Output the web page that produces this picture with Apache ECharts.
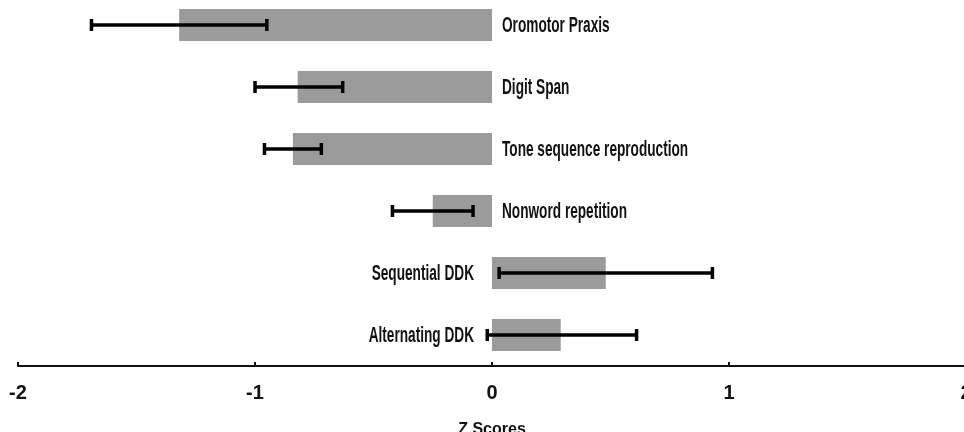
<!DOCTYPE html>
<html><head><meta charset="utf-8">
<script src="https://cdn.jsdelivr.net/npm/echarts@6/dist/echarts.min.js"></script>
<style>html,body{margin:0;padding:0;background:#fff}#c{width:964px;height:432px}</style>
</head><body><div id="c"></div>
<script>
const categories = ["Oromotor Praxis","Digit Span","Tone sequence reproduction","Nonword repetition","Sequential DDK","Alternating DDK"];
const zScores = [-1.32, -0.82, -0.84, -0.25, 0.48, 0.29];
const errLow  = [-1.69, -1.00, -0.96, -0.42, 0.03, -0.02];
const errHigh = [-0.95, -0.63, -0.72, -0.08, 0.93, 0.61];
const xTicks = [-2, -1, 0, 1, 2];

const FONT = "'Liberation Sans','Arial',sans-serif";
const chart = echarts.init(document.getElementById('c'));
chart.setOption({
  animation: false,
  backgroundColor: '#fff',
  grid: {left: 18, width: 948, top: -6, height: 372, containLabel: false, outerBoundsMode: 'none'},
  xAxis: {
    type: 'value', min: xTicks[0], max: xTicks[xTicks.length-1], interval: 1,
    axisLine: {show: true, onZero: false, lineStyle: {color: '#111', width: 2}},
    axisTick: {show: true, inside: true, length: 4, lineStyle: {color: '#111', width: 2}},
    splitLine: {show: false},
    axisLabel: {color: '#111', fontFamily: FONT, fontWeight: 'bold', fontSize: 20, margin: 17,
      formatter: v => String(v)},
    name: 'Z Scores', nameLocation: 'middle', nameGap: 56,
    nameTextStyle: {color: '#111', fontFamily: FONT, fontWeight: 'bold', fontSize: 16}
  },
  yAxis: {type: 'category', data: categories, inverse: true, show: false},
  series: [
    {type: 'bar', data: zScores, barWidth: 32, itemStyle: {color: '#9b9b9b'}, silent: true},
    {type: 'custom', z: 5, data: categories.map((c, i) => [i, errLow[i], errHigh[i]]),
      renderItem: function (params, api) {
        const i = api.value(0);
        const a = api.coord([api.value(1), i]);
        const b = api.coord([api.value(2), i]);
        const y = a[1];
        const st = {stroke: '#000', lineWidth: 3.5};
        return {type: 'group', children: [
          {type: 'line', shape: {x1: a[0], y1: y, x2: b[0], y2: y}, style: st},
          {type: 'line', shape: {x1: a[0], y1: y-6, x2: a[0], y2: y+6}, style: st},
          {type: 'line', shape: {x1: b[0], y1: y-6, x2: b[0], y2: y+6}, style: st}
        ]};
      }},
    {type: 'custom', z: 6, data: categories.map((c, i) => [i, zScores[i]]),
      renderItem: function (params, api) {
        const i = api.value(0);
        const v = api.value(1);
        const p = api.coord([0, i]);
        const neg = v < 0;
        return {type: 'text', x: neg ? p[0] + 10 : p[0] - 18, y: p[1] + 1, scaleX: 0.62,
          style: {text: categories[i], fill: '#111', font: 'bold 22px ' + FONT,
            align: neg ? 'left' : 'right', verticalAlign: 'middle'}};
      }}
  ]
});
</script></body></html>
